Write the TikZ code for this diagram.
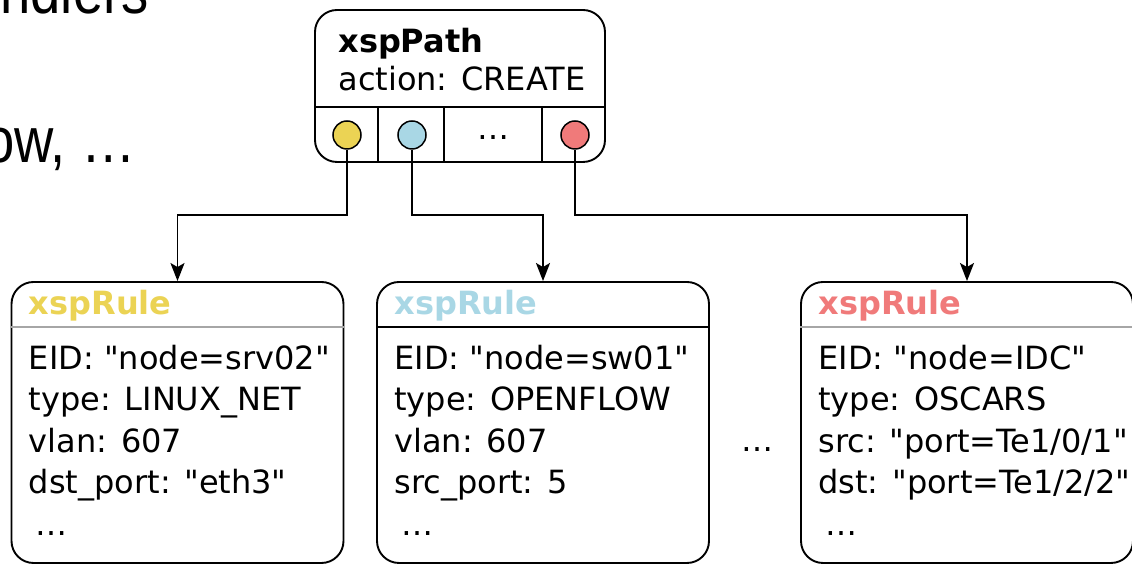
\documentclass[tikz,border=0pt]{standalone}
\usepackage{fontspec}
\setmainfont{DejaVu Sans}[Ligatures=TeXOff]
\newfontfamily\slidefont{Liberation Sans}
\usetikzlibrary{arrows.meta,positioning,calc}

\definecolor{ruleyellow}{HTML}{EBD354}
\definecolor{ruleblue}{HTML}{A9D7E5}
\definecolor{rulered}{HTML}{F07A7A}

\begin{document}
\begin{tikzpicture}[x=0.5pt,y=0.5pt,
    box/.style={draw, line width=0.95pt, rounded corners=11pt, inner sep=0pt},
    pathbox/.style={box, minimum width=145pt, minimum height=76pt},
    rulebox/.style={box, minimum width=166pt, minimum height=140.5pt},
    port/.style={circle, draw, line width=0.75pt, minimum size=14pt, inner sep=0pt},
    title/.style={font=\fontsize{16}{19}\selectfont\bfseries, anchor=base west, inner sep=0pt},
    body/.style={font=\fontsize{16}{20.75}\selectfont, align=left, anchor=base west, inner sep=0pt},
    slide/.style={font=\slidefont\fontsize{32}{38}\selectfont, anchor=base east, inner sep=0pt},
    flow/.style={line width=0.95pt, -{Stealth[length=9pt,width=7pt,inset=2pt]}}]
    \useasboundingbox (0,0) rectangle (1132,-565);
    \clip (0,0) rectangle (1132,-565);

    % slide text running in from the left
    \node[slide] (handlers) at (149,-14) {\scalebox{0.85}[1]{ndlers}};
    \node[slide] (flows) at (136,-163) {\scalebox{0.85}[1]{ow, …}};

    % the path object with its ports
    \node[pathbox] (xpath) at (460,-86) {};
    \node[title] (ptitle) at (338,-53) {xspPath};
    \node[body] (paction) at (338,-91) {action: CREATE};
    \draw[line width=0.95pt] ($(xpath.north west)+(0,-98)$) -- ($(xpath.north east)+(0,-98)$);
    \foreach \x in {378,444,542}
        \draw[line width=0.95pt] (\x,-108) -- (\x,-162);
    \node[port, fill=ruleyellow] (p1) at (347,-135) {};
    \node[port, fill=ruleblue] (p2) at (412,-135) {};
    \node[body, anchor=base] (pmore) at (493,-140) {…};
    \node[port, fill=rulered] (p3) at (575,-135) {};

    % the rules
    \foreach \r/\cx/\col/\divcol in {r1/177.5/ruleyellow/black!35, r2/543/ruleblue/black, r3/967/rulered/black!35} {
        \node[rulebox] (\r) at (\cx,-422.5) {};
        \node[title, text=\col] at ($(\r.north west)+(18,-33)$) {xspRule};
        \draw[line width=1pt, \divcol] ($(\r.north west)+(0,-46)$) -- ($(\r.north east)+(0,-46)$);
    }
    % base of a multi-line node is its last line
    \node[body] (b1) at ($(r1.north west)+(18,-254)$)
        {EID: "node=srv02"\\type: LINUX\_NET\\vlan: 607\\dst\_port: "eth3"\\\hspace{3.5pt}…};
    \node[body] (b2) at ($(r2.north west)+(18,-254)$)
        {EID: "node=sw01"\\type: OPENFLOW\\vlan: 607\\src\_port: 5\\\hspace{3.5pt}…};
    \node[body] (b3) at ($(r3.north west)+(18,-254)$)
        {EID: "node=IDC"\\type: OSCARS\\src: "port=Te1/0/1"\\dst: "port=Te1/2/2"\\\hspace{3.5pt}…};
    \node[body, anchor=base] (rmore) at (757,-452) {…};

    % port -> rule
    \coordinate (split) at (0,-215);
    \draw[flow] (p1.south) |- (split -| r1.north) -- (r1.north);
    \draw[flow] (p2.south) |- (split -| r2.north) -- (r2.north);
    \draw[flow] (p3.south) |- (split -| r3.north) -- (r3.north);
\end{tikzpicture}
\end{document}
